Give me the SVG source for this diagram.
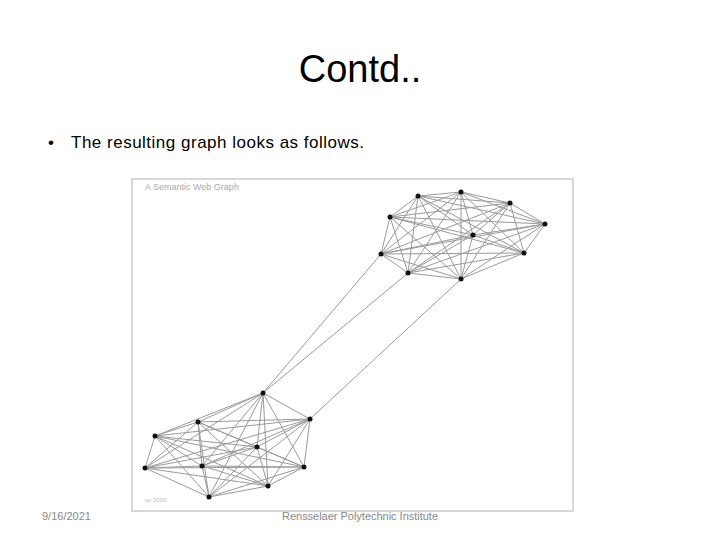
<svg xmlns="http://www.w3.org/2000/svg" width="720" height="540" viewBox="0 0 720 540">
<style>
.t{font-family:"Liberation Sans",Arial,sans-serif}
.e{stroke:#9a9a9a;stroke-width:1;fill:none}
.n{fill:#111}
</style>
<rect width="720" height="540" fill="#fff"/>
<text class="t" x="360" y="82" font-size="38" text-anchor="middle" fill="#000">Contd..</text>
<text class="t" x="48" y="148" font-size="17" fill="#000">•</text>
<text class="t" x="71" y="148" font-size="17" fill="#000" textLength="293">The resulting graph looks as follows.</text>
<rect x="132" y="179" width="441" height="332" fill="none" stroke="#ccc" stroke-width="1.5"/>
<text class="t" x="145" y="190" font-size="9" fill="#aaa">A Semantic Web Graph</text>
<text class="t" x="145" y="502" font-size="6" fill="#bbb">so 2000</text>
<g id="connectors">
<path class="e" d="M418 196L461 192M418 196L510 203M418 196L545 224M418 196L390 217M418 196L473 235M418 196L381 254M418 196L524 253M418 196L408 273M418 196L461 279
M461 192L510 203M461 192L545 224M461 192L390 217M461 192L473 235M461 192L381 254M461 192L524 253M461 192L408 273M461 192L461 279
M510 203L545 224M510 203L390 217M510 203L473 235M510 203L381 254M510 203L524 253M510 203L408 273M510 203L461 279
M545 224L390 217M545 224L473 235M545 224L381 254M545 224L524 253M545 224L408 273M545 224L461 279
M390 217L473 235M390 217L381 254M390 217L524 253M390 217L408 273M390 217L461 279
M473 235L381 254M473 235L524 253M473 235L408 273M473 235L461 279
M381 254L524 253M381 254L408 273M381 254L461 279
M524 253L408 273M524 253L461 279M408 273L461 279"/>
<path class="e" d="M263 393L310 419M263 393L198 422M263 393L155 436M263 393L257 447M263 393L145 468M263 393L202 466M263 393L304 467M263 393L268 486M263 393L209 497
M310 419L198 422M310 419L155 436M310 419L257 447M310 419L145 468M310 419L202 466M310 419L304 467M310 419L268 486M310 419L209 497
M198 422L155 436M198 422L257 447M198 422L145 468M198 422L202 466M198 422L304 467M198 422L268 486M198 422L209 497
M155 436L257 447M155 436L145 468M155 436L202 466M155 436L304 467M155 436L268 486M155 436L209 497
M257 447L145 468M257 447L202 466M257 447L304 467M257 447L268 486M257 447L209 497
M145 468L202 466M145 468L304 467M145 468L268 486M145 468L209 497
M202 466L304 467M202 466L268 486M202 466L209 497
M304 467L268 486M304 467L209 497M268 486L209 497"/>
<path class="e" d="M263 393L381 254M263 393L408 273M310 419L461 279"/>
</g>
<g id="top-nodes">
<circle id="nA" class="n" cx="418" cy="196" r="2.5"/><circle id="nB" class="n" cx="461" cy="192" r="2.5"/>
<circle id="nC" class="n" cx="510" cy="203" r="2.5"/><circle id="nD" class="n" cx="545" cy="224" r="2.5"/>
<circle id="nE" class="n" cx="390" cy="217" r="2.5"/><circle id="nF" class="n" cx="473" cy="235" r="2.5"/>
<circle id="nG" class="n" cx="381" cy="254" r="2.5"/><circle id="nH" class="n" cx="524" cy="253" r="2.5"/>
<circle id="nI" class="n" cx="408" cy="273" r="2.5"/><circle id="nJ" class="n" cx="461" cy="279" r="2.5"/>
</g>
<g id="bottom-nodes">
<circle id="na" class="n" cx="263" cy="393" r="2.5"/><circle id="nb" class="n" cx="310" cy="419" r="2.5"/>
<circle id="nc" class="n" cx="198" cy="422" r="2.5"/><circle id="nd" class="n" cx="155" cy="436" r="2.5"/>
<circle id="ne" class="n" cx="257" cy="447" r="2.5"/><circle id="nf" class="n" cx="145" cy="468" r="2.5"/>
<circle id="ng" class="n" cx="202" cy="466" r="2.5"/><circle id="nh" class="n" cx="304" cy="467" r="2.5"/>
<circle id="ni" class="n" cx="268" cy="486" r="2.5"/><circle id="nj" class="n" cx="209" cy="497" r="2.5"/>
</g>
<text class="t" x="42" y="520" font-size="11" fill="#888">9/16/2021</text>
<text class="t" x="360" y="520" font-size="11" fill="#888" text-anchor="middle" textLength="156">Rensselaer Polytechnic Institute</text>
</svg>
